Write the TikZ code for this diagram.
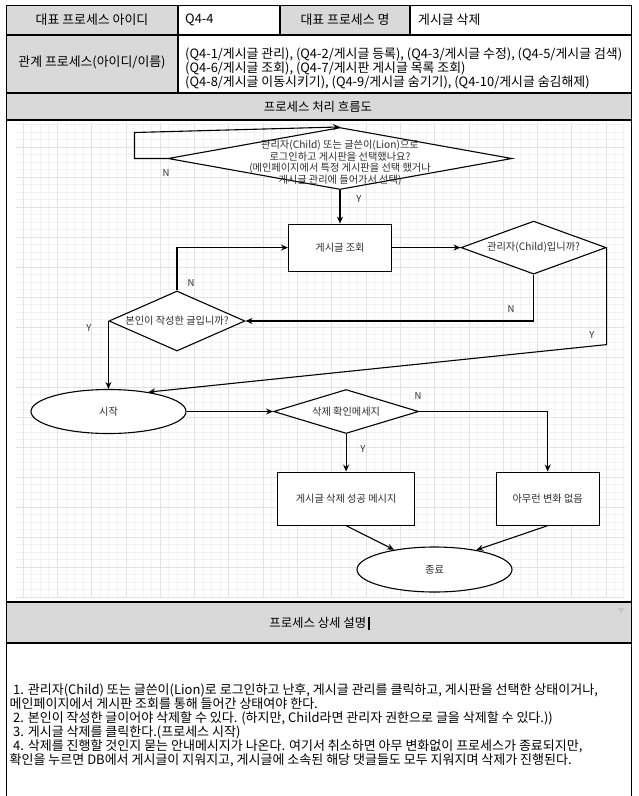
\documentclass[tikz,border=0pt]{standalone}
\usepackage{fontspec}
\setmainfont{Noto Sans CJK KR}
\usetikzlibrary{arrows.meta,positioning,shapes.geometric}
\definecolor{cellgray}{RGB}{217,217,217}
\definecolor{gridmajor}{RGB}{226,226,226}
\definecolor{gridminor}{RGB}{242,242,242}
\definecolor{inkgray}{RGB}{45,45,45}

\begin{document}
\begin{tikzpicture}[x=1pt,y=-1pt,
  tableline/.style={draw=black,line width=1.4pt},
  tabletext/.style={font=\fontsize{12.9}{12.3}\selectfont,text=black,inner sep=0pt},
  headtext/.style={font=\fontsize{12.4}{13}\selectfont,text=black,inner sep=0pt},
  flowtext/.style={font=\fontsize{10.2}{11.5}\selectfont,text=inkgray,inner sep=0pt},
  decision/.style={diamond,draw=black,line width=1.1pt,inner sep=0pt,fill=white},
  process/.style={draw=black,line width=1.1pt,fill=white,flowtext,minimum width=103,minimum height=47},
  terminal/.style={ellipse,draw=black,line width=1.1pt,fill=white,flowtext,minimum width=155,minimum height=44},
  arrow/.style={-{Stealth[length=7pt,width=6pt]},line width=1.1pt,draw=black},
  yn/.style={font=\fontsize{9.5}{11}\selectfont,text=inkgray,inner sep=0pt}
]
  \useasboundingbox (0,0) rectangle (638,796);

  \fill[cellgray] (6.5,5.5) rectangle (178,35);
  \fill[cellgray] (280,5.5) rectangle (410,35);
  \fill[cellgray] (6.5,35) rectangle (178,93);
  \fill[cellgray] (6.5,93) rectangle (631.5,120);
  \fill[cellgray] (6.5,602) rectangle (631.5,643);

  \begin{scope}
    \clip (16,123) rectangle (625,598);
    \foreach \gi in {-1,...,71} \draw[gridminor,line width=0.7pt] ({23+8.575*\gi},123) -- ++(0,475);
    \foreach \gi in {0,...,64} \draw[gridminor,line width=0.7pt] (16,{117+7.5*\gi}) -- ++(609,0);
    \foreach \gi in {0,...,18} \draw[gridmajor,line width=0.8pt] ({23+34.3*\gi},123) -- ++(0,475);
    \foreach \gi in {0,...,16} \draw[gridmajor,line width=0.8pt] (16,{117+30*\gi}) -- ++(609,0);
  \end{scope}

  \draw[tableline] (6.5,800) -- (6.5,5.5) -- (631.5,5.5) -- (631.5,800);
  \foreach \gy in {35,93,120,602,643} \draw[tableline] (6.5,\gy) -- (631.5,\gy);
  \draw[tableline] (178,5.5) -- (178,93);
  \draw[tableline] (280,5.5) -- (280,35);
  \draw[tableline] (410,5.5) -- (410,35);

  \node[tabletext] (idhead) at (92,20) {대표 프로세스 아이디};
  \node[tabletext,anchor=west] (idval) at (185,20) {Q4-4};
  \node[tabletext] (namehead) at (345,20) {대표 프로세스 명};
  \node[tabletext,anchor=west] (nameval) at (418,20) {게시글 삭제};
  \node[tabletext] (relhead) at (92,62) {관계 프로세스(아이디/이름)};
  \node[tabletext,anchor=west,align=left] (relval) at (185,68.5)
    {(Q4-1/게시글 관리), (Q4-2/게시글 등록), (Q4-3/게시글 수정), (Q4-5/게시글 검색)\\
     (Q4-6/게시글 조회), (Q4-7/게시판 게시글 목록 조회)\\
     (Q4-8/게시글 이동시키기), (Q4-9/게시글 숨기기), (Q4-10/게시글 숨김해제)};
  \node[headtext] (flowhead) at (318,106.5) {프로세스 처리 흐름도};
  \node[headtext] (deschead) at (319.5,623) {프로세스 상세 설명\,\rule[-2.5pt]{1.3pt}{13pt}};
  \fill[gray!45] (617.5,608) -- (624.5,608) -- (621,613) -- cycle;

  \node[decision,minimum width=344,minimum height=62,
        label={[flowtext,align=center,yshift=-4.5pt]center:관리자(Child) 또는 글쓴이(Lion)으로\\로그인하고 게시판을 선택했나요?\\(메인페이지에서 특정 게시판을 선택 했거나\\게시글 관리에 들어가서 선택)}]
        (login) at (340,158.5) {};
  \node[process,below=33.5pt of login] (view) {게시글 조회};
  \node[decision,minimum width=145,minimum height=53,right=68.5pt of view,
        label={[flowtext]center:관리자(Child)입니까?}] (isadmin) {};
  \node[decision,minimum width=136,minimum height=60,
        label={[flowtext]center:본인이 작성한 글입니까?}] (isowner) at (177,321) {};
  \node[terminal] (start) at (108.5,411.5) {시작};
  \node[decision,minimum width=145,minimum height=44,right=86.5pt of start,
        label={[flowtext]center:삭제 확인메세지}] (confirm) {};
  \node[process,minimum width=137,minimum height=53,below=37.5pt of confirm] (okmsg) {게시글 삭제 성공 메시지};
  \node[process,minimum height=53,right=80.5pt of okmsg] (nochange) {아무런 변화 없음};
  \node[terminal,minimum height=45] (finish) at (434.5,569.5) {종료};

  \draw[arrow] (login.west) -- ++(-33,0) -- ++(0,-26) -- (login.north);
  \draw[arrow] (login.south) -- (view.north);
  \draw[arrow] (view.east) -- (isadmin.west);
  \draw[arrow] (isadmin.south) |- (isowner.east);
  \draw[arrow] (isowner.north) |- (view.west);
  \draw[arrow] (isowner.west) -- (isowner.west |- start.north);
  \draw[arrow] (isadmin.east) -- ++(0,97) -- (start.26);
  \draw[arrow] (start.east) -- (confirm.west);
  \draw[arrow] (confirm.south) -- (okmsg.north);
  \draw[arrow] (confirm.east) -| (nochange.north);
  \draw[arrow] (okmsg.south) -- (finish.154);
  \draw[arrow] (nochange.south) -- (finish.25);

  \node[yn] (nloop) at (166,173) {N};
  \node[yn] (ylogin) at (359,199) {Y};
  \node[yn] (nadmin) at (511,309) {N};
  \node[yn] (nowner) at (191,283) {N};
  \node[yn] (yowner) at (89,328) {Y};
  \node[yn] (yadmin) at (592,335) {Y};
  \node[yn] (nconfirm) at (418,396) {N};
  \node[yn] (yconfirm) at (363,449) {Y};

  \node[anchor=north west,align=left,inner sep=0pt,font=\fontsize{13}{14}\selectfont] (desc) at (9.5,683)
    {\hspace{3.5pt}1. 관리자(Child) 또는 글쓴이(Lion)로 로그인하고 난후, 게시글 관리를 클릭하고, 게시판을 선택한 상태이거나,\\
     메인페이지에서 게시판 조회를 통해 들어간 상태여야 한다.\\
     \hspace{3.5pt}2. 본인이 작성한 글이어야 삭제할 수 있다. (하지만, Child라면 관리자 권한으로 글을 삭제할 수 있다.))\\
     \hspace{3.5pt}3. 게시글 삭제를 클릭한다.(프로세스 시작)\\
     \hspace{3.5pt}4. 삭제를 진행할 것인지 묻는 안내메시지가 나온다. 여기서 취소하면 아무 변화없이 프로세스가 종료되지만,\\
     확인을 누르면 DB에서 게시글이 지워지고, 게시글에 소속된 해당 댓글들도 모두 지워지며 삭제가 진행된다.};
\end{tikzpicture}
\end{document}
